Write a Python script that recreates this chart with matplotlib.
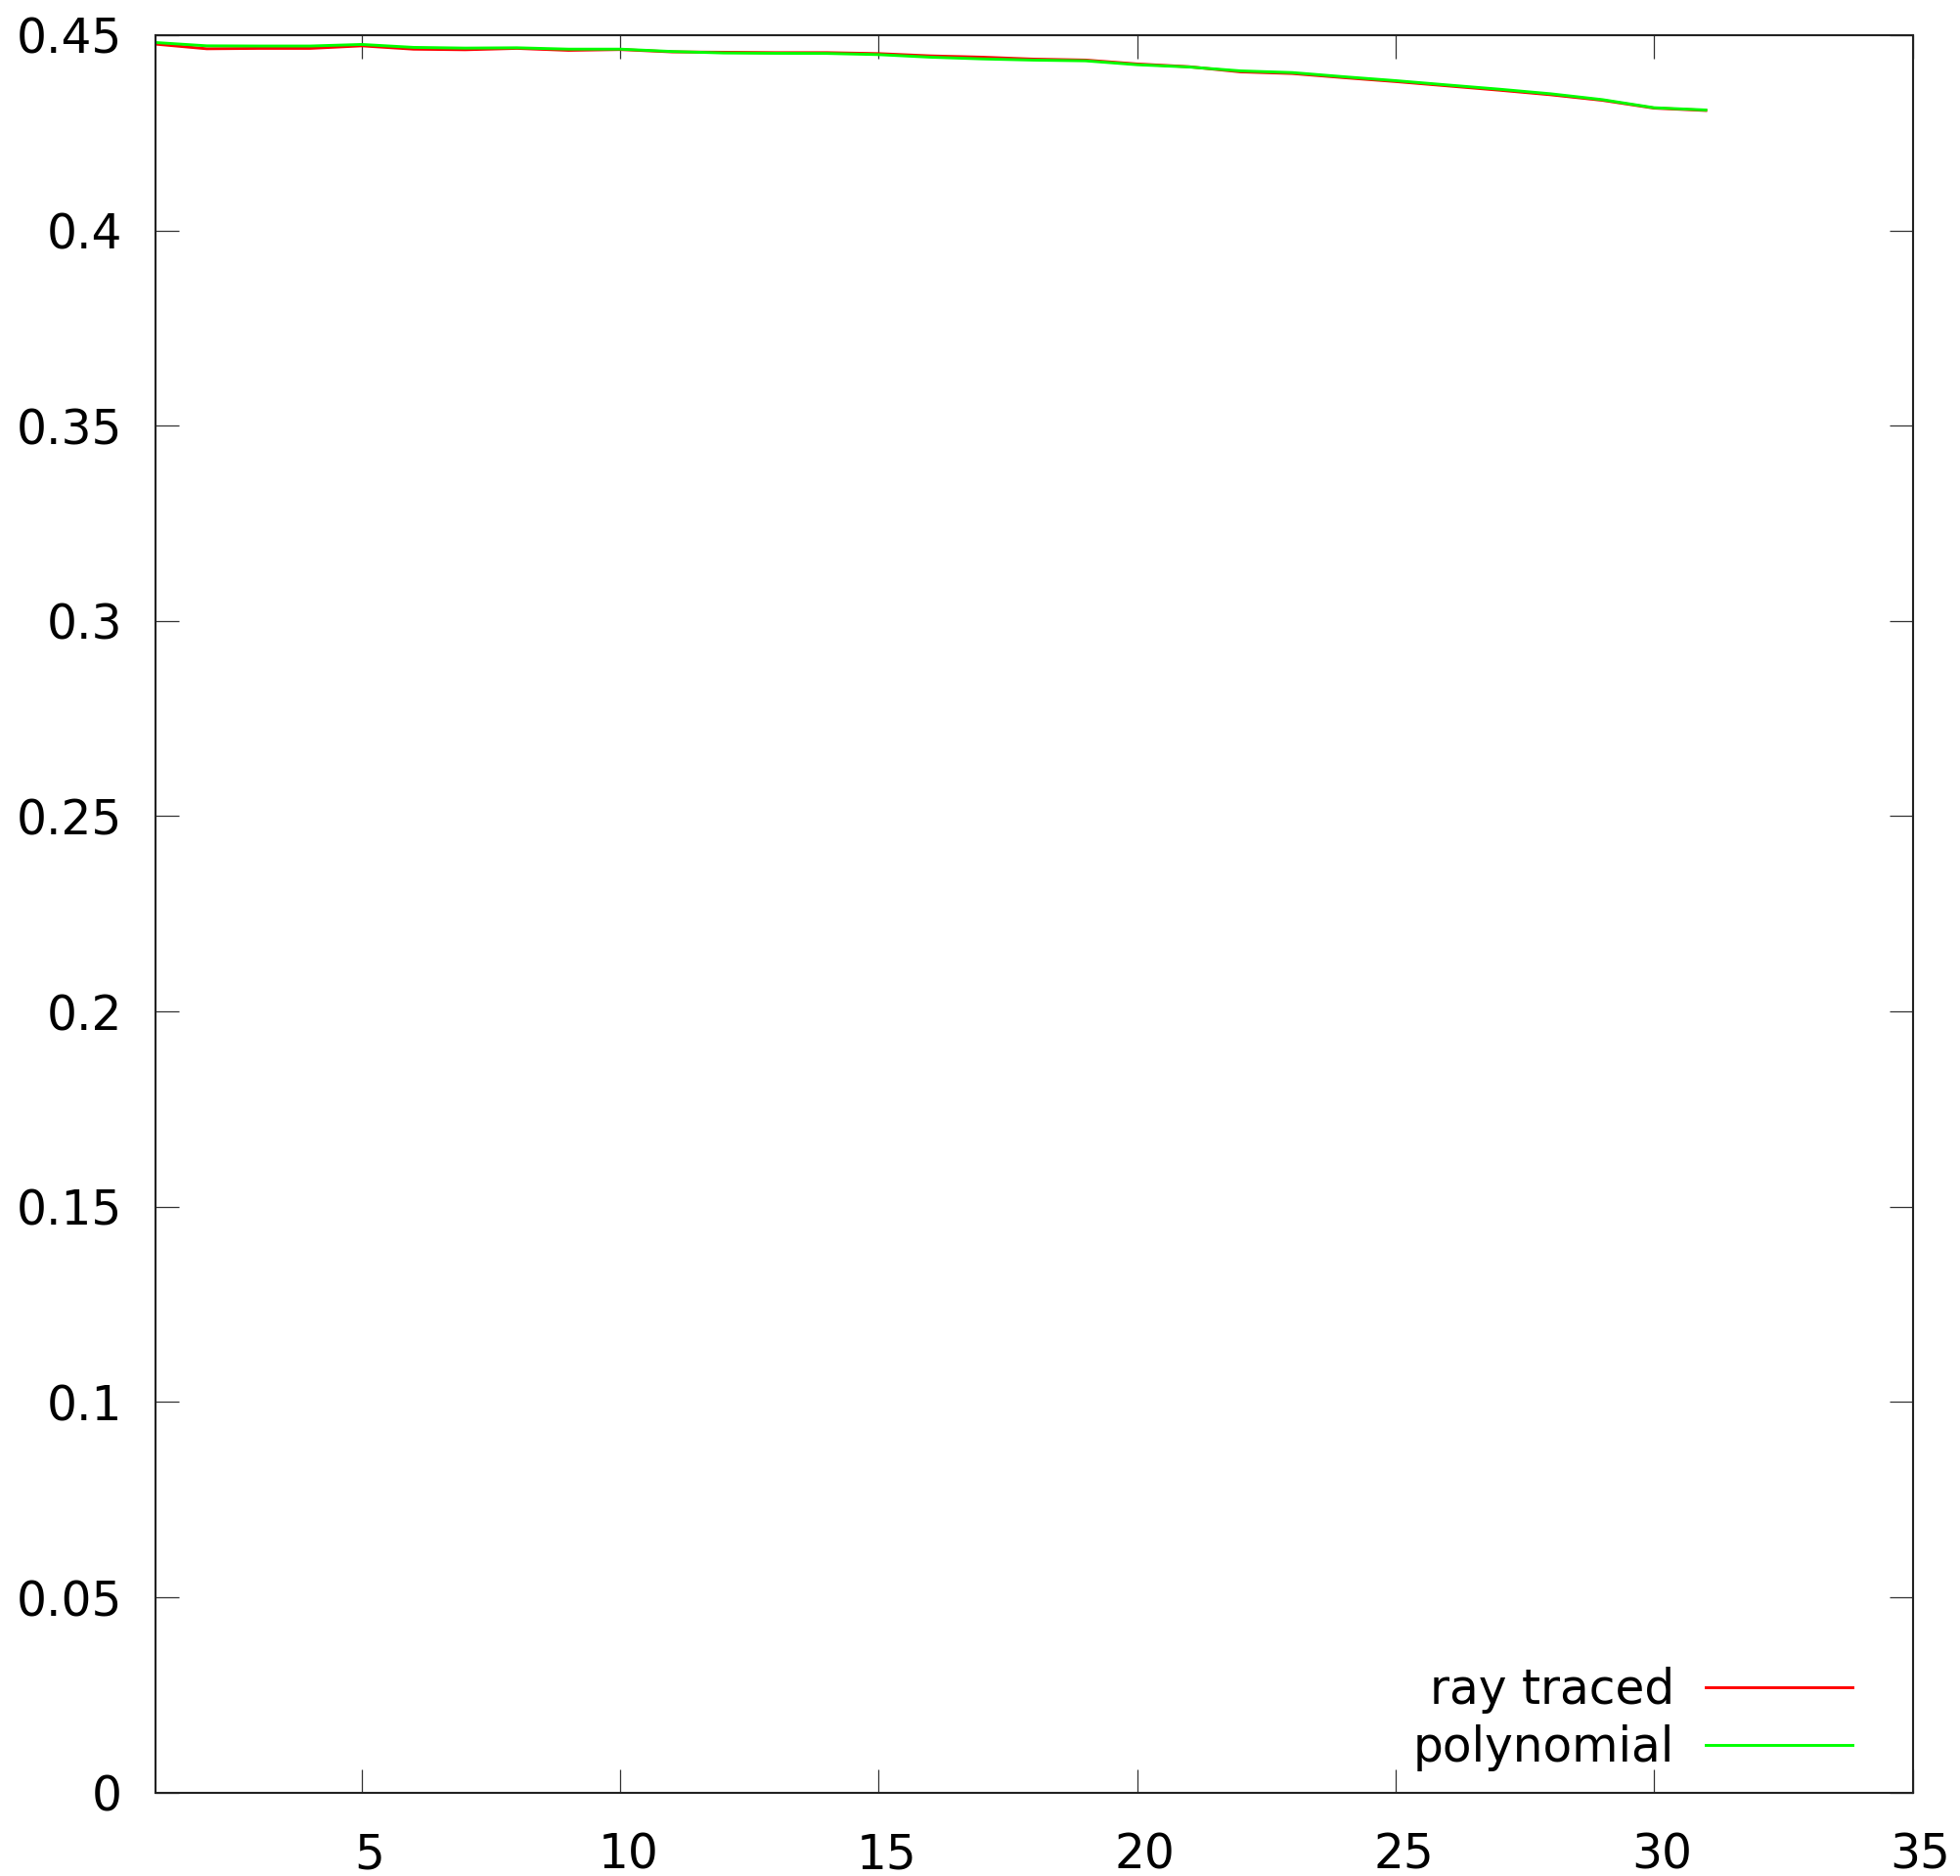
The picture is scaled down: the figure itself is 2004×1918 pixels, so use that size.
import numpy as np
import matplotlib
matplotlib.use("Agg")
import matplotlib.pyplot as plt
import matplotlib.transforms as mtransforms
from matplotlib.ticker import FormatStrFormatter

samples = np.arange(1, 32)
ray_traced = [0.4477, 0.4465, 0.4466, 0.4466, 0.44725, 0.4464, 0.44625, 0.4466,
              0.4461, 0.4463, 0.4457, 0.4456, 0.4455, 0.4455, 0.44525, 0.44467,
              0.44434, 0.44384, 0.4436, 0.4426, 0.4419, 0.44058, 0.44016, 0.4391,
              0.4381, 0.4370, 0.4359, 0.43472, 0.4333, 0.4313, 0.4307]
polynomial = [0.4481, 0.44725, 0.4472, 0.4472, 0.4476, 0.44685, 0.44667, 0.44675,
              0.4464, 0.4464, 0.4458, 0.44542, 0.44534, 0.4453, 0.4450, 0.44434,
              0.4439, 0.44359, 0.44341, 0.44241, 0.44183, 0.44083, 0.4404, 0.43933,
              0.43833, 0.43723, 0.43615, 0.43497, 0.43347, 0.4314, 0.43082]
x_ticks = [5, 10, 15, 20, 25, 30, 35]
y_ticks = np.arange(0, 0.451, 0.05)

fig = plt.figure(figsize=(20.04, 19.18), dpi=100)
ax = fig.add_axes([0.0791, 0.0445, 0.8967, 0.9368])

ax.plot(samples, ray_traced, color="#ff0000", lw=2.1, label="ray traced")
ax.plot(samples, polynomial, color="#00ff00", lw=2.1, label="polynomial")

ax.set_xlim(1, 35)
ax.set_ylim(0, 0.45)
ax.set_xticks(x_ticks)
ax.set_yticks(y_ticks)
ax.yaxis.set_major_formatter(FormatStrFormatter("%g"))
ax.tick_params(direction="in", length=17, width=0.9, top=True, right=True,
               labelsize=35, color="#333333")
ax.tick_params(axis="x", pad=29)
ax.tick_params(axis="y", pad=24)
for sp in ax.spines.values():
    sp.set_linewidth(1.5)
    sp.set_color("#222222")

# gnuplot puts the x labels a touch right of the ticks
shift = mtransforms.ScaledTranslation(8 / 100, 0, fig.dpi_scale_trans)
for lab in ax.get_xticklabels():
    lab.set_transform(lab.get_transform() + shift)

ax.legend(loc="lower right", bbox_to_anchor=(0.966, 0.012), frameon=False,
          markerfirst=False, fontsize=35, handlelength=3.1, handletextpad=0.65,
          labelspacing=0.22, borderpad=0, borderaxespad=0)

plt.savefig("out.png", dpi=100)
